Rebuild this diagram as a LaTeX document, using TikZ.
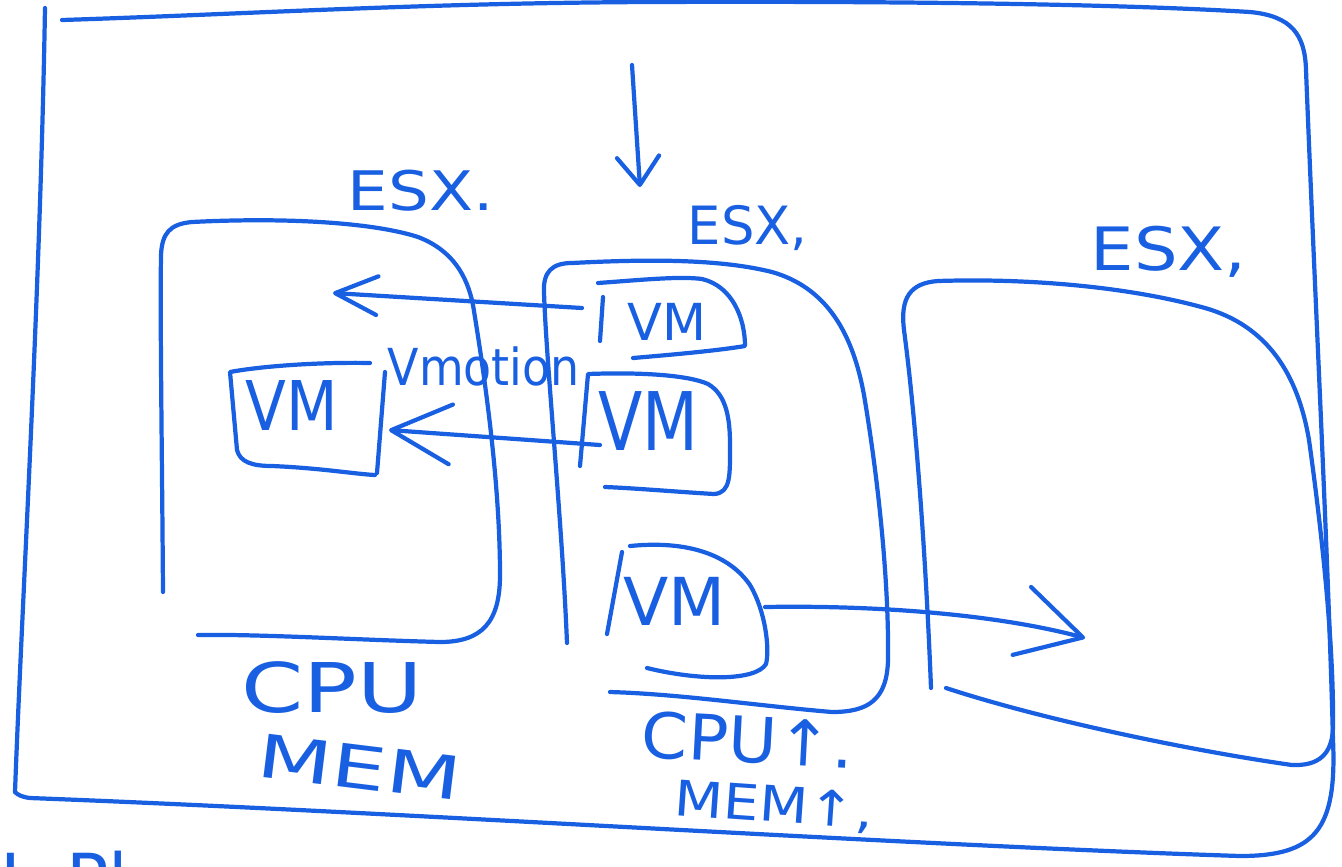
\documentclass[tikz,border=0pt]{standalone}
\usepackage{fontspec}
\usepackage{graphicx}
\setmainfont{DejaVu Sans}
\usetikzlibrary{arrows.meta}
\definecolor{ink}{RGB}{25,95,225}
\newcommand{\hwtext}[3]{\scalebox{#1}[1]{\fontsize{#2}{#2}\selectfont #3}}
\begin{document}
\begin{tikzpicture}[x=0.01cm,y=-0.01cm,
  pen/.style={draw=ink,line width=1.2pt,line cap=round,line join=round},
  hand/.style={text=ink,inner sep=0pt,anchor=base west},
  ]
\useasboundingbox (0,0) rectangle (1342,866);

% outer frame
\draw[pen] (45,8) .. controls (40,300) and (22,600) .. (15,792);
\draw[pen] (62,20) .. controls (250,14) and (420,3) .. (650,2) .. controls (900,1) and (1120,4) .. (1250,12)
  .. controls (1292,16) and (1305,35) .. (1306,70) .. controls (1315,300) and (1328,550) .. (1333,740)
  .. controls (1337,830) and (1315,856) .. (1240,856) .. controls (900,845) and (400,812) .. (30,798)
  .. controls (22,797) and (18,795) .. (15,792);

% ESX hosts
\draw[pen] (163,592) .. controls (162,450) and (160,320) .. (161,255) .. controls (162,233) and (170,224) .. (192,222)
  .. controls (290,217) and (375,223) .. (418,237) .. controls (452,250) and (467,275) .. (473,305)
  .. controls (487,390) and (500,490) .. (500,575) .. controls (500,622) and (482,642) .. (440,642)
  .. controls (360,640) and (260,634) .. (198,635);
\draw[pen] (567,643) .. controls (562,520) and (546,360) .. (544,292) .. controls (543,272) and (552,263) .. (572,263)
  .. controls (650,259) and (720,259) .. (772,272) .. controls (828,288) and (853,335) .. (864,395)
  .. controls (880,490) and (889,590) .. (888,660) .. controls (887,700) and (868,712) .. (832,712)
  .. controls (760,706) and (680,694) .. (610,692);
\draw[pen] (931,688) .. controls (926,560) and (916,420) .. (904,330) .. controls (900,298) and (910,283) .. (938,281)
  .. controls (1030,278) and (1130,287) .. (1205,308) .. controls (1268,326) and (1298,375) .. (1309,440)
  .. controls (1323,540) and (1334,650) .. (1333,728) .. controls (1332,755) and (1318,766) .. (1292,765)
  .. controls (1200,752) and (1050,722) .. (946,688);

% VM boxes
\draw[pen] (598,283) .. controls (640,280) and (680,276) .. (702,279) .. controls (732,286) and (745,318) .. (745,346)
  .. controls (715,351) and (668,355) .. (633,358);
\draw[pen] (603,297) -- (600,341);
\draw[pen] (580,466) -- (588,374) .. controls (640,372) and (688,375) .. (708,384) .. controls (727,395) and (730,420) .. (730,445)
  .. controls (730,475) and (731,493) .. (714,494) .. controls (680,492) and (632,488) .. (605,487);
\draw[pen] (630,546) .. controls (690,540) and (730,556) .. (750,585) .. controls (765,610) and (770,648) .. (766,664)
  .. controls (756,681) and (700,681) .. (647,668);
\draw[pen] (622,552) -- (607,634);
\draw[pen] (370,363) .. controls (320,362) and (262,366) .. (230,372) -- (237,450) .. controls (240,462) and (252,466) .. (272,466)
  .. controls (320,468) and (355,474) .. (375,475);
\draw[pen] (385,372) -- (377,473);

% labels
\node[hand] (esxA) at (347,210) {\hwtext{1.18}{15.5pt}{ESX.}};
\node[hand] (esxB) at (687,244) {\hwtext{1.0}{15pt}{ESX,}};
\node[hand] (esxC) at (1090,270) {\hwtext{1.15}{17pt}{ESX,}};
\node[hand] (vm1) at (627,340) {\hwtext{1.0}{14.5pt}{VM}};
\node[hand] (vm2) at (598,450) {\hwtext{0.8}{23pt}{VM}};
\node[hand] (vm3) at (623,625) {\hwtext{1.0}{18.8pt}{VM}};
\node[hand] (vmL) at (245,430) {\hwtext{0.87}{19.5pt}{VM}};
\node[hand] (vmotion) at (387,385) {\hwtext{0.9}{14.5pt}{Vmotion}};
\node[hand] (cpuA) at (241,712) {\hwtext{1.3}{19.5pt}{CPU}};
\node[hand,rotate=-7] (memA) at (255,776) {\hwtext{1.45}{17pt}{MEM}};
\node[hand,rotate=-3] (cpuB) at (640,757) {\hwtext{1.05}{18pt}{CPU↑.}};
\node[hand,rotate=-4] (memB) at (673,815) {\hwtext{1.15}{14pt}{MEM↑,}};
\node[hand] (note) at (0,904) {\hwtext{1.0}{20pt}{I\ \ Pl}};

% arrows
\coordinate (dns) at (632,65);
\coordinate (dne) at (640,187);
\coordinate (a1s) at (582,308);
\coordinate (a1e) at (333,293);
\coordinate (a2s) at (600,445);
\coordinate (a2e) at (389,430);
\coordinate (a3s) at (765,607);
\coordinate (a3e) at (1085,638);
\draw[pen,-{Straight Barb[length=8pt,width=12pt,round]}] (dns) -- (dne);
\draw[pen,-{Straight Barb[length=12pt,width=11pt,round]}] (a1s) -- (a1e);
\draw[pen,-{Straight Barb[length=17pt,width=17pt,round]}] (a2s) -- (a2e);
\draw[pen,-{Straight Barb[length=18pt,width=20pt,round]}] (a3s) .. controls (880,605) and (1000,615) .. (a3e);
\end{tikzpicture}
\end{document}
